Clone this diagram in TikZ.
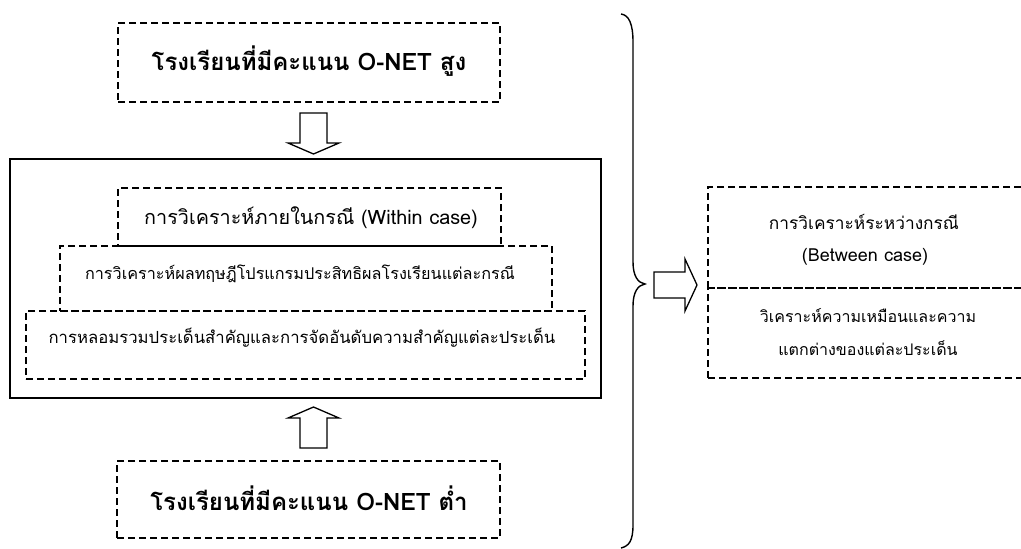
\documentclass[tikz,border=0pt]{standalone}
\usepackage{fontspec}
\newfontfamily\thai[Script=Thai]{Loma}
\begin{document}
\begin{tikzpicture}[x=1pt,y=-1pt,
  dbox/.style={draw, dash pattern=on 7pt off 4pt, line width=1.1pt, inner sep=0pt},
  txt/.style={inner sep=0pt, font=\thai, align=center},
  blockarrow/.style={draw, line width=1.3pt, fill=white, line join=miter},
  brace/.style={draw, line width=1.4pt}]
\useasboundingbox (0,0) rectangle (1021,549);
\begin{scope}
\clip (0,0) rectangle (1021,549);
% top and bottom school boxes
\node[dbox, minimum width=382, minimum height=79] (top) at (309,62.5) {};
\node[txt, font=\thai\bfseries\fontsize{24}{28}\selectfont] (toptxt) at (309,61) {โรงเรียนที่มีคะแนน O-NET สูง};
\node[dbox, minimum width=383, minimum height=77] (bot) at (308.5,499.5) {};
\node[txt, font=\thai\bfseries\fontsize{24}{28}\selectfont] (bottxt) at (309,498) {โรงเรียนที่มีคะแนน O-NET ต่ำ};
% main box
\node[draw, line width=1.6pt, minimum width=591, minimum height=239, inner sep=0pt] (main) at (305.5,278.5) {};
\node[dbox, minimum width=383, minimum height=58] (w1) at (309.5,217) {};
\node[dbox, minimum width=492, minimum height=65] (w2) at (306,278.5) {};
\node[dbox, minimum width=559, minimum height=68] (w3) at (305.5,345) {};
\node[txt, font=\thai\fontsize{19.8}{24}\selectfont] (w1t) at (311,218) {การวิเคราะห์ภายในกรณี (Within case)};
\node[txt, font=\thai\fontsize{16.2}{20}\selectfont] (w2t) at (300,274) {การวิเคราะห์ผลทฤษฎีโปรแกรมประสิทธิผลโรงเรียนแต่ละกรณี};
\node[txt, font=\thai\fontsize{16.7}{20}\selectfont] (w3t) at (302,338) {การหลอมรวมประเด็นสำคัญและการจัดอันดับความสำคัญแต่ละประเด็น};
% right box
\node[dbox, minimum width=315, minimum height=101] (bc) at (865.5,237.5) {};
\node[dbox, minimum width=315, minimum height=90] (bd) at (865.5,333) {};
\node[txt, font=\thai\fontsize{17.3}{22}\selectfont] (bct1) at (864,222) {การวิเคราะห์ระหว่างกรณี};
\node[txt, font=\thai\fontsize{18}{22}\selectfont] (bct2) at (865,257) {(Between case)};
\node[txt, font=\thai\fontsize{16}{20}\selectfont] (bdt1) at (868,316) {วิเคราะห์ความเหมือนและความ};
\node[txt, font=\thai\fontsize{16}{20}\selectfont] (bdt2) at (868,348) {แตกต่างของแต่ละประเด็น};
\end{scope}
% block arrows
\path[blockarrow] (300,113) -- (327,113) -- (327,143) -- (339,143) -- (313.5,154) -- (288,143) -- (300,143) -- cycle;
\path[blockarrow] (300,448) -- (327,448) -- (327,418) -- (339,418) -- (313.5,407) -- (288,418) -- (300,418) -- cycle;
\path[blockarrow] (654,272) -- (685,272) -- (685,259) -- (697,285) -- (685,311) -- (685,298) -- (654,298) -- cycle;
% brace
\path[brace] (621,14) .. controls (629,15) and (633,24) .. (633,42) -- (633,262)
  .. controls (633,276) and (638,283) .. (645,284)
  .. controls (638,285) and (633,292) .. (633,306) -- (633,525)
  .. controls (633,541) and (629,546) .. (621,548);
\end{tikzpicture}
\end{document}
